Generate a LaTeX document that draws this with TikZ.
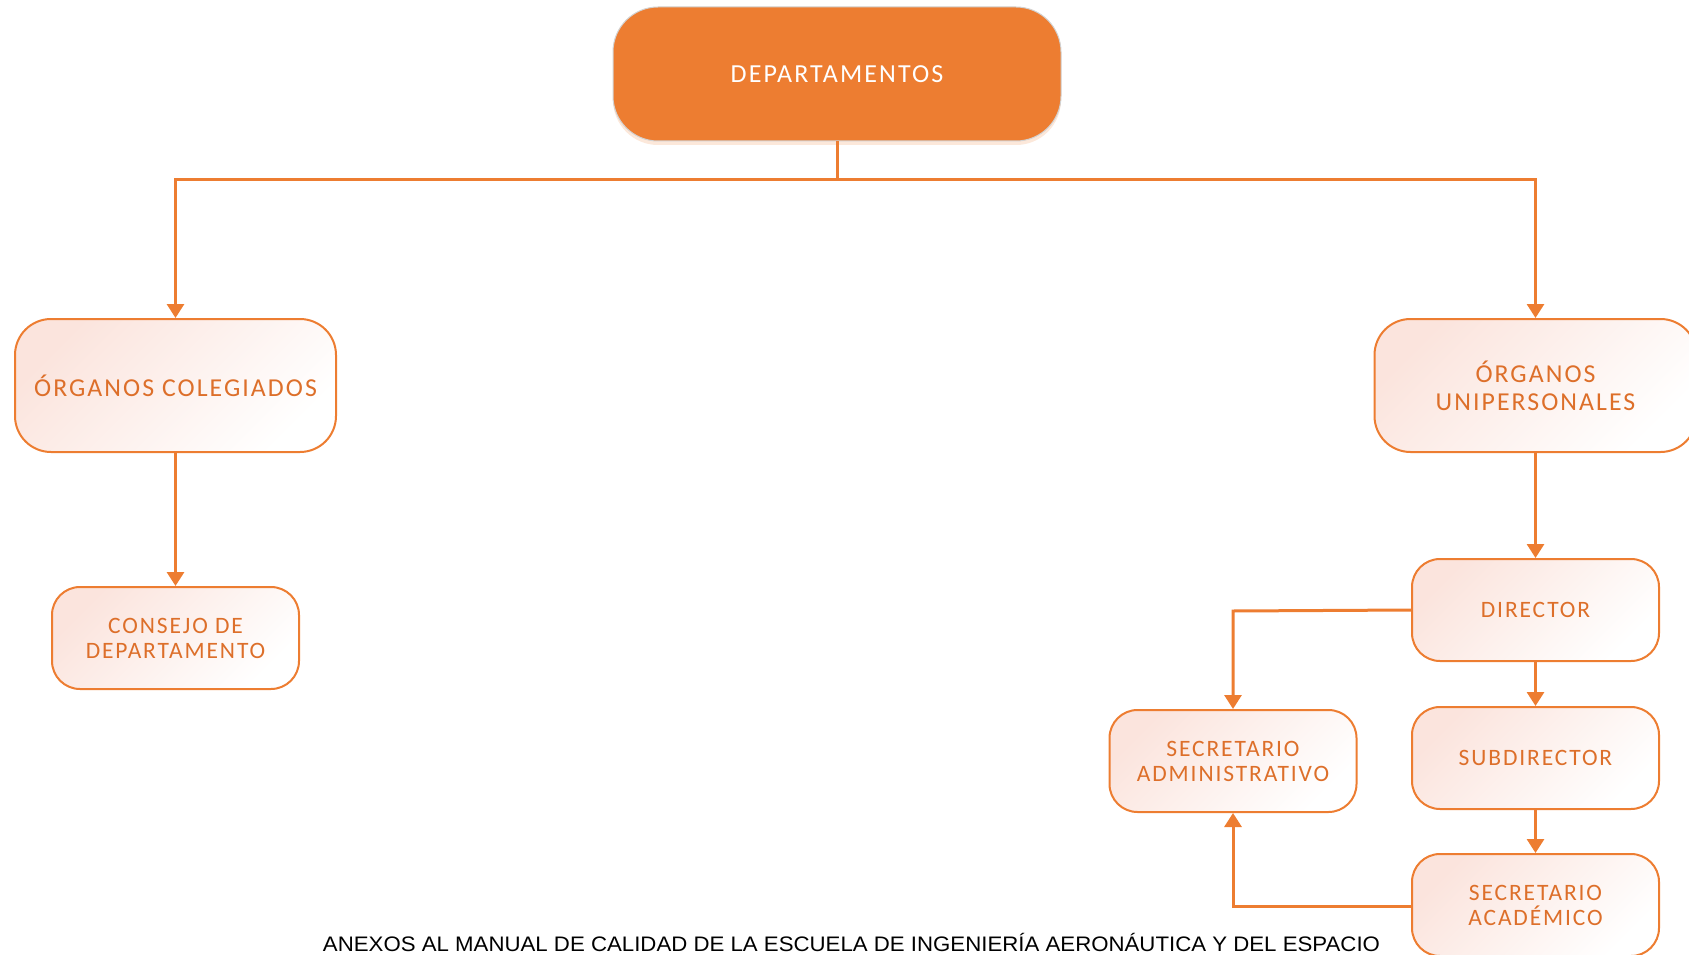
\documentclass[tikz,border=0pt]{standalone}
\usepackage{fontspec}
\usepackage{graphicx}
\setmainfont{Carlito}
\newfontfamily\boxfont[LetterSpace=8]{Carlito}
\newfontfamily\footfont{Liberation Sans}
\usetikzlibrary{arrows.meta,shadows}
\definecolor{orgline}{HTML}{ED7D31}
\definecolor{orgtext}{HTML}{DD6F2A}
\definecolor{boxpink}{HTML}{FBE4DD}
\tikzset{
  box/.style={draw=orgline, line width=2pt, rounded corners=30pt, inner sep=0pt, align=center,
    top color=boxpink, middle color=white, bottom color=white, shading angle=45, text=orgtext},
  bigbox/.style={box, minimum width=321pt, minimum height=133pt, rounded corners=36pt,
    font=\boxfont\fontsize{25.8}{28}\selectfont},
  smallbox/.style={box, minimum width=247pt, minimum height=102pt, rounded corners=28pt,
    font=\boxfont\fontsize{23.5}{25}\selectfont},
  topbox/.style={draw=gray!35, line width=1pt, fill=orgline, rounded corners=45pt, inner sep=0pt,
    minimum width=448pt, minimum height=134pt, text=white, align=center,
    font=\boxfont\fontsize{26}{28}\selectfont,
    drop shadow={shadow xshift=0pt, shadow yshift=-4pt, opacity=0.18, fill=orgline}},
  arr/.style={draw=orgline, line width=3pt, -{Triangle[width=17pt,length=14pt]}},
  ln/.style={draw=orgline, line width=3pt}
}
\begin{document}
\begin{tikzpicture}[x=1pt,y=-1pt]
\useasboundingbox (0,0) rectangle (1689,955);
\node[topbox] (dep) at (837,74) {DEPARTAMENTOS};
\node[bigbox] (coleg) at (175.5,385.5) {ÓRGANOS COLEGIADOS};
\node[smallbox] (consejo) at (175.5,638) {CONSEJO DE\\DEPARTAMENTO};
\node[bigbox, minimum width=322pt] (unip) at (1535.5,385.5) {ÓRGANOS\\UNIPERSONALES};
\node[smallbox] (dir) at (1535.5,610) {DIRECTOR};
\node[smallbox] (sub) at (1535.5,758) {SUBDIRECTOR};
\node[smallbox] (acad) at (1535.5,905) {SECRETARIO\\ACADÉMICO};
\node[smallbox] (admin) at (1233,761) {SECRETARIO\\ADMINISTRATIVO};
\coordinate (j) at (837,179);
\coordinate (ja) at (1233,611);
\coordinate (jb) at (1233,906);
\draw[ln] (dep.south) -- (j);
\draw[arr] (j) -| (coleg.north);
\draw[arr] (j) -| (unip.north);
\draw[arr] (coleg.south) -- (consejo.north);
\draw[arr] (unip.south) -- (dir.north);
\draw[arr] (dir.south) -- (sub.north);
\draw[arr] (sub.south) -- (acad.north);
\draw[arr] (dir.west) -- (ja) -- (admin.north);
\draw[arr] (acad.west |- jb) -- (jb) -- (admin.south);
\node[inner sep=0pt, anchor=base] (foot) at (851.5,951)
  {\resizebox{1057pt}{\height}{\footfont\fontsize{21}{24}\selectfont ANEXOS AL MANUAL DE CALIDAD DE LA ESCUELA DE INGENIERÍA AERONÁUTICA Y DEL ESPACIO}};
\end{tikzpicture}
\end{document}
